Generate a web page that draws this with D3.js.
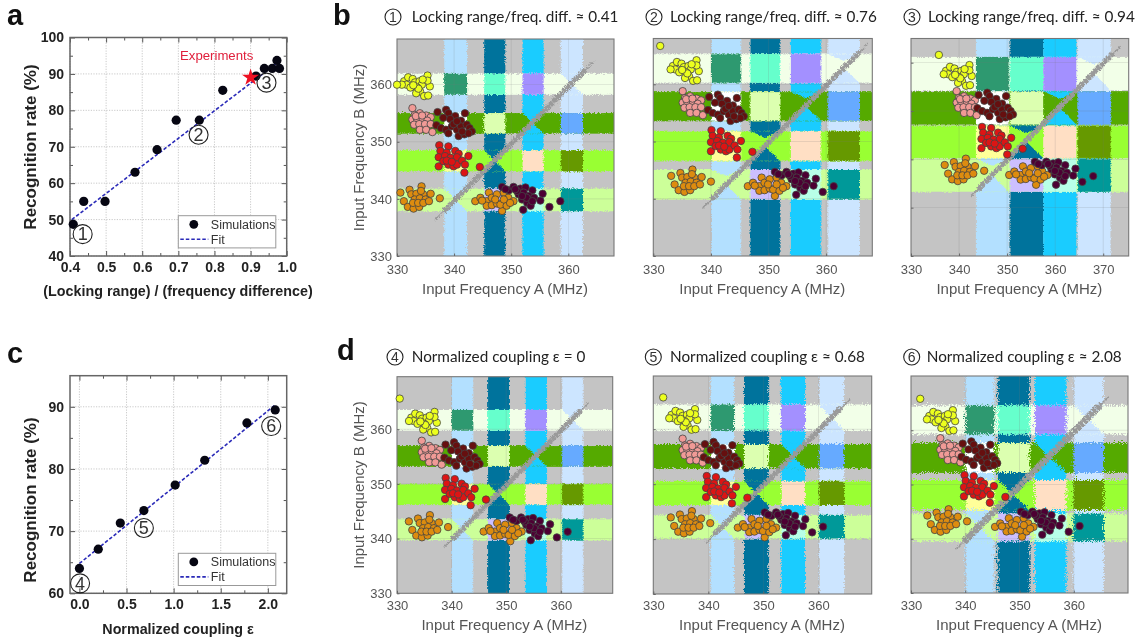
<!DOCTYPE html>
<html>
<head>
<meta charset="utf-8">
<script src="https://cdnjs.cloudflare.com/ajax/libs/d3/7.8.5/d3.min.js"></script>
<style>
  html,body{margin:0;padding:0;background:#fff;}
  svg{display:block;filter:blur(.45px);}
  text{font-family:"Liberation Sans",Arial,sans-serif;}
  .title{font-family:Lato,"Open Sans",sans-serif;font-size:15.3px;fill:#222;}
</style>
</head>
<body>
<div id="chart"></div>
<script>
// panel a
const lockRatio = [0.409,0.438,0.497,0.58,0.641,0.694,0.758,0.823,0.915,0.938,0.96,0.973,0.98]
const lockRate  = [48.7,55,55,63,69.2,77.3,77.3,85.5,89.4,91.5,91.5,93.7,91.5]
const lockFitX  = [0.405,0.98]
const lockFitY  = [50,93.5]
const expPoint  = [0.9,89]
const lockMarks = [["1",0.435,46],["2",0.756,73.3],["3",0.944,87.6]]
// panel c
const coupling     = [0,0.2,0.434,0.684,1.016,1.33,1.778,2.078]
const couplingRate = [64,67.1,71.3,73.3,77.4,81.4,87.4,89.5]
const couplingFitX = [0,2.07]
const couplingFitY = [64.8,90.2]
const couplingMarks = [["4",0.007,61.6],["5",0.684,70.5],["6",2.035,86.9]]

// decision maps, one entry per panel: b1 b2 b3 d1 d2 d3 (MHz)
const mapMarks  = ["1","2","3","4","5","6"]
const mapTitles = ["Locking range/freq. diff. ≈ 0.41","Locking range/freq. diff. ≈ 0.76","Locking range/freq. diff. ≈ 0.94",
                   "Normalized coupling ε = 0","Normalized coupling ε ≈ 0.68","Normalized coupling ε ≈ 2.08"]
const maxA = [368,368,375.3,369.5,369.7,370]
const maxB = [368,368,375,369.6,369.7,370]
const colBands = [
  [[338.1,342.1],[345.1,348.8],[351.8,355.5],[358.5,362.4]],
  [[340,345.1],[346.7,351.9],[353.7,359],[360.2,365.7]],
  [[343.5,350.3],[350.5,357.5],[357.5,364.4],[364.6,371.5]],
  [[339.9,343.8],[346.5,350.5],[353.4,357.3],[360.1,364]],
  [[340.2,344.5],[346.3,350.7],[353,357.4],[359.9,364.5]],
  [[339.7,345],[345.6,351.5],[352.5,358.3],[359.6,365.2]]]
const rowBands = [
  [[358.4,362.1],[351.6,355.2],[345,348.7],[338,342]],
  [[360.3,365.4],[353.7,358.8],[346.7,351.9],[340,345.2]],
  [[364.3,371.2],[357.2,364.1],[350.3,357],[343.3,350.2]],
  [[359.9,363.7],[353.3,357.1],[346.3,350.1],[339.8,343.7]],
  [[360,364.7],[353.1,357.5],[346.4,350.8],[340.3,344.6]],
  [[359.6,364.9],[352.5,358],[345.7,351.2],[339.9,345]]]
const diagonal = [[336.5,364.3],[338.5,367.2],[342.4,373.4],[338.5,365],[339.4,365.6],[338.1,366.4]]
const colColors = ["#b3e0ff","#00739c","#1accff","#cce5ff"]
const rowColors = ["#f2ffe8","#55aa00","#99ff33","#ccff99"]
const cellColors = [
  ["#2e9970","#66ffcc","#a390ff",null],
  ["#ffffff","#dcffb0",null,"#66aaff"],
  ["#ffff99",null,"#ffdfc4","#669900"],
  [null,"#ccbfff","#b8ffe8","#009999"]]

const clusterYellow = [[-2.2,.6],[-1.5,1.3],[-.7,1],[1.9,1.6],[-1.8,0],[-1.1,-.5],[-.3,.4],[.5,.6],[.9,0],[.1,-.5],[.6,-1.2],[-.1,-1.5],[1.3,-2],[2,-1.9],[2.3,-.3],[1.9,.7],[.3,-.7],[-.6,-.1],[-2.6,0],[1.05,.9]]
const clusterPink = [[-1.6,2.2],[-.3,1.3],[-1.2,1],[.8,.9],[1.6,.6],[-1.6,.2],[-.8,.3],[.2,.3],[1,0],[-1.3,-.7],[-.4,-.6],[.6,-.6],[1.6,-.6],[-.3,-1.6],[.8,-1.6],[1.9,-2],[-1,.8],[.1,.9]]
const clusterBrown = [[-2.8,2.2],[-1.3,2.6],[-.9,2],[.3,1.5],[2,2],[-.6,1],[1.3,.7],[-1.8,1.2],[-3,-.1],[-2.2,-.6],[-1.3,-.9],[-.3,-.3],[.6,-.9],[1.3,-.3],[2.3,0],[2.8,-.6],[3.2,-1.2],[.9,-2],[1.9,-1.7],[2.6,-1.5],[-.9,-1.5],[0,.1],[.6,.6],[1.5,-1.2]]
const clusterRed = [[-2.2,2.2],[-.6,2],[-2,1.2],[-.9,.9],[.6,1.2],[1.2,.7],[-2.3,.1],[-1.2,.3],[-.2,0],[.9,.1],[-2.3,-1.5],[-1.5,-.6],[-.6,-1.2],[.3,-1.5],[.9,-1.2],[1.8,-.5],[2.9,.3],[2.3,-1.2],[2.2,-2.6],[4.9,-1.6],[-.9,-.5],[0,-.7]]
const clusterOrangeL = [[-3.1,1.2],[-2.5,-.3],[-1.5,1.7],[.6,2.3],[-1.2,.9],[-.3,1],[.9,.9],[2.2,1],[-.6,0],[.3,.2],[1.3,0],[3.8,.2],[-1.8,-1.3],[-.8,-1.6],[.2,-1.3],[-.9,-.6],[0,-.6],[.9,-.6],[1.9,-.3],[.5,1.5]]
const clusterOrangeR = [[-3.5,-.2],[-2.6,.4],[-1.1,1.3],[-1.5,-.2],[-.6,.4],[.3,1],[1.5,1.3],[2.3,.4],[3.2,-.2],[-1.5,-1],[-.6,-.9],[.3,-.6],[1.2,-1.9],[.9,-.8],[2,-1],[2.6,-.5],[-2.3,-.1],[0,.1],[1.5,.1]]
const clusterMaroon = [[-3.8,1.6],[-2.6,1],[-1.8,1.6],[-.6,1.3],[.3,1.5],[1.5,1],[3.3,.4],[-.9,.3],[0,.6],[.9,0],[1.8,-.3],[2.9,-.8],[-.3,-.6],[.6,-1.2],[1.2,-1.7],[4.5,-1.9],[6.4,-.9],[-.1,-2.4],[-3.2,1.2],[-1.2,.9],[.5,-.3],[-.3,0],[1.5,-.9],[-1.5,1.2]]
const clusters = [clusterYellow,clusterPink,clusterOrangeL,clusterRed,clusterBrown,clusterOrangeR,clusterMaroon]
const clusterColors = ["#ecff1e","#f09a96","#dd8c0f","#dd1414","#660f0f","#dd8c0f","#4d0033"]
// centre [A,B] of every cluster in each panel, same order as clusters
const clusterCentres = [
  [[333.45,360],[334.3,353.7],[333.7,339.9],[339.6,347.2],[339.9,353],[347.2,339.8],[352.2,340.5]],
  [[335.6,362.6],[336.7,356.6],[336.2,342.8],[342.3,349.8],[342.5,355.6],[349.9,342.4],[354.9,343.1]],
  [[339.9,367.6],[341.4,361.5],[340.7,347.4],[347.4,354.1],[347.4,360.7],[354.6,347],[360.3,347.6]],
  [[334.9,361.5],[336.2,355.6],[335.4,341.9],[341.2,348.8],[341.8,354.9],[349.5,341.5],[354.6,342.2]],
  [[335.6,362],[337,356],[336.4,342.7],[342,349.2],[342.3,355],[349,342.3],[354.2,343.2]],
  [[335.7,362],[337.1,356.2],[336.3,343],[342.2,349.4],[342.5,355.2],[349.2,342.4],[354.3,343.3]]]
const clusterSpread = [1,1,1.19,1.04,1.04,1.06]
const yellowOutlier = [[330,360],[331.2,366.7],[335.8,371.6],[330.5,365.6],[331.8,365.8],[331.7,365.8]]

const svg = d3.select("#chart").append("svg").attr("width",1136).attr("height",641)
svg.append("rect").attr("width",1136).attr("height",641).attr("fill","#fff")
const defs = svg.append("defs")

function jagFilter(id,scale){
  const f = defs.append("filter").attr("id",id).attr("x","-5%").attr("y","-5%").attr("width","110%").attr("height","110%").attr("color-interpolation-filters","sRGB")
  f.append("feTurbulence").attr("type","turbulence").attr("baseFrequency",0.55).attr("numOctaves",2).attr("seed",4).attr("result","n")
  f.append("feDisplacementMap").attr("in","SourceGraphic").attr("in2","n").attr("scale",scale).attr("xChannelSelector","R").attr("yChannelSelector","G")
}
const jagScale = [4,2,1.5,2.5,5,8]
jagScale.forEach((s,i)=>jagFilter("jag"+i,s))

// circled number
function mark(g,cx,cy,r,t,size){
  g.append("circle").attr("cx",cx).attr("cy",cy).attr("r",r).attr("fill","none").attr("stroke","#222").attr("stroke-width",1.1)
  g.append("text").attr("x",cx).attr("y",cy+size*0.35).attr("text-anchor","middle").attr("font-size",size).attr("fill","#333").text(t)
}

function lettering(t,x,y){
  svg.append("text").attr("x",x).attr("y",y).attr("font-size",29).attr("font-weight","bold").attr("fill","#111").text(t)
}
lettering("a",7,25); lettering("b",333,25); lettering("c",7,363); lettering("d",337,360)

// scatter panels a and c
function fitPanel(o){
  const left=70, right=286.7
  const x=d3.scaleLinear().domain(o.xDomain).range([left,right])
  const y=d3.scaleLinear().domain(o.yDomain).range([o.bottom,o.top])
  const g=svg.append("g")
  // dotted grid
  g.selectAll(null).data(o.xTicks).join("line")
    .attr("x1",d=>x(d)).attr("x2",d=>x(d)).attr("y1",o.top).attr("y2",o.bottom)
    .attr("stroke","#bbb").attr("stroke-width",.8).attr("stroke-dasharray","1.2 1.4")
  g.selectAll(null).data(o.yTicks).join("line")
    .attr("y1",d=>y(d)).attr("y2",d=>y(d)).attr("x1",left).attr("x2",right)
    .attr("stroke","#bbb").attr("stroke-width",.8).attr("stroke-dasharray","1.2 1.4")
  // major + minor ticks on all sides
  const ax=(gen,t,vals,size,lab)=>{
    const a=g.append("g").attr("transform",t).call(gen.tickValues(vals).tickSize(size).tickPadding(lab?6:0).tickFormat(lab||""))
    a.select(".domain").remove()
    a.selectAll("line").attr("stroke","#555").attr("stroke-width",1)
    a.selectAll("text").attr("font-size",14).attr("font-weight","bold").attr("fill","#222")
  }
  ax(d3.axisBottom(x),`translate(0,${o.bottom})`,o.xMinor,-3)
  ax(d3.axisTop(x),`translate(0,${o.top})`,o.xMinor,-3)
  ax(d3.axisLeft(y),`translate(${left},0)`,o.yMinor,-3)
  ax(d3.axisRight(y),`translate(${right},0)`,o.yMinor,-3)
  ax(d3.axisBottom(x),`translate(0,${o.bottom})`,o.xTicks,-5,d3.format(".1f"))
  ax(d3.axisTop(x),`translate(0,${o.top})`,o.xTicks,-5)
  ax(d3.axisLeft(y),`translate(${left},0)`,o.yTicks,-5,d3.format("d"))
  ax(d3.axisRight(y),`translate(${right},0)`,o.yTicks,-5)
  g.append("rect").attr("x",left).attr("y",o.top).attr("width",right-left).attr("height",o.bottom-o.top)
    .attr("fill","none").attr("stroke","#666").attr("stroke-width",1.5)
  // fit
  g.append("path").attr("d",d3.line().x(d=>x(d[0])).y(d=>y(d[1]))(d3.zip(o.fitX,o.fitY)))
    .attr("fill","none").attr("stroke","#2a2ab8").attr("stroke-width",1.6).attr("stroke-dasharray","3.5 2")
  // simulations
  g.selectAll(null).data(d3.zip(o.xs,o.ys)).join("circle")
    .attr("cx",d=>x(d[0])).attr("cy",d=>y(d[1])).attr("r",4.6).attr("fill","#060612")
  o.marks.forEach(m=>mark(g,x(m[1]),y(m[2]),9.5,m[0],18))
  // legend
  const lx=178.3, ly=o.legendTop
  g.append("rect").attr("x",lx).attr("y",ly).attr("width",97.5).attr("height",32.2).attr("fill","#fff").attr("stroke","#999").attr("stroke-width",1)
  g.append("circle").attr("cx",lx+15.5).attr("cy",ly+8.6).attr("r",4.4).attr("fill","#060612")
  g.append("text").attr("x",lx+32.5).attr("y",ly+13).attr("font-size",12.5).attr("fill","#333").text("Simulations")
  g.append("line").attr("x1",lx+2).attr("x2",lx+30).attr("y1",ly+23.6).attr("y2",ly+23.6)
    .attr("stroke","#2a2ab8").attr("stroke-width",1.6).attr("stroke-dasharray","3.5 2")
  g.append("text").attr("x",lx+32.5).attr("y",ly+28).attr("font-size",12.5).attr("fill","#333").text("Fit")
  // titles
  g.append("text").attr("x",178).attr("y",o.xTitleY).attr("text-anchor","middle").attr("font-size",14.3).attr("font-weight","bold").attr("fill","#222").text(o.xTitle)
  g.append("text").attr("transform",`translate(36,${o.yTitleY}) rotate(-90)`).attr("text-anchor","middle").attr("font-size",17).attr("font-weight","bold").attr("fill","#222").text("Recognition rate (%)")
  return {g,x,y}
}

const panelA=fitPanel({xDomain:[.4,1],yDomain:[40,100],top:37.5,bottom:256,
  xTicks:d3.range(4,11).map(d=>d/10),yTicks:d3.range(40,101,10),
  xMinor:d3.range(9,20,2).map(d=>d/20),yMinor:d3.range(45,100,10),
  fitX:lockFitX,fitY:lockFitY,xs:lockRatio,ys:lockRate,marks:lockMarks,legendTop:215.7,
  xTitle:"(Locking range) / (frequency difference)",xTitleY:296,yTitleY:147})
panelA.g.append("path").attr("transform",`translate(${panelA.x(expPoint[0])},${panelA.y(expPoint[1])})`)
  .attr("d",d3.symbol().type(d3.symbolStar).size(90)()).attr("fill","#ee1022")
panelA.g.append("text").attr("x",180).attr("y",60).attr("font-size",13.2).attr("fill","#e0203c").text("Experiments")

fitPanel({xDomain:[-.1,2.2],yDomain:[60,95],top:375.7,bottom:593.3,
  xTicks:[0,.5,1,1.5,2],yTicks:[60,70,80,90],
  xMinor:[.25,.75,1.25,1.75],yMinor:[65,75,85],
  fitX:couplingFitX,fitY:couplingFitY,xs:coupling,ys:couplingRate,marks:couplingMarks,legendTop:553.3,
  xTitle:"Normalized coupling ε",xTitleY:634,yTitleY:500})

// decision map panels
const mapBoxes=[
  {x0:397,x1:614,y0:39,y1:256,lab:275,title:294,head:22,cx:393,tx:411.7,cut:0},
  {x0:653.3,x1:872.3,y0:38.5,y1:256,lab:275,title:294,head:22,cx:654,tx:670,cut:.55},
  {x0:911,x1:1128.7,y0:38.5,y1:256,lab:275,title:294,head:22,cx:912,tx:928,cut:.55},
  {x0:397,x1:612.7,y0:376.7,y1:593.3,lab:611,title:630,head:362,cx:395,tx:411.7,cut:0},
  {x0:653.3,x1:871.7,y0:376,y1:594,lab:611,title:630,head:362,cx:653.3,tx:670,cut:0},
  {x0:911,x1:1128,y0:376,y1:593,lab:611,title:630,head:362,cx:911.7,tx:926.7,cut:0}]

mapBoxes.forEach((b,p)=>{
  const x=d3.scaleLinear().domain([330,maxA[p]]).range([b.x0,b.x1])
  const y=d3.scaleLinear().domain([330,maxB[p]]).range([b.y1,b.y0])
  const g=svg.append("g")
  defs.append("clipPath").attr("id","box"+p).append("rect")
    .attr("x",b.x0).attr("y",b.y0).attr("width",b.x1-b.x0).attr("height",b.y1-b.y0)
  const clip=g.append("g").attr("clip-path",`url(#box${p})`)
  const m=clip.append("g").attr("filter",`url(#jag${p})`)
  m.append("rect").attr("x",b.x0-10).attr("y",b.y0-10).attr("width",b.x1-b.x0+20).attr("height",b.y1-b.y0+20).attr("fill","#c4c4c4")
  m.selectAll(null).data(colBands[p]).join("rect")
    .attr("x",d=>x(d[0])).attr("width",d=>x(d[1])-x(d[0])).attr("y",b.y0-10).attr("height",b.y1-b.y0+20)
    .attr("fill",(d,i)=>colColors[i])
  m.selectAll(null).data(rowBands[p]).join("rect")
    .attr("x",b.x0-10).attr("width",b.x1-b.x0+20).attr("y",d=>y(d[1])).attr("height",d=>y(d[0])-y(d[1]))
    .attr("fill",(d,i)=>rowColors[i])
  rowBands[p].forEach((r,ri)=>colBands[p].forEach((c,ci)=>{
    const col=cellColors[ri][ci]
    if(col){
      m.append("rect").attr("x",x(c[0])).attr("width",x(c[1])-x(c[0])).attr("y",y(r[1])).attr("height",y(r[0])-y(r[1])).attr("fill",col)
    }else{
      // the cell on the diagonal splits into a bowtie, upper wedge cut short in some panels
      const mx=(c[0]+c[1])/2, my=(r[0]+r[1])/2
      const tip=my+(r[1]-my)*b.cut
      const tri=[[[c[0],r[1]],[c[1],r[1]],[mx,tip]],[[c[0],r[0]],[c[1],r[0]],[mx,my]]]
      m.selectAll(null).data(tri).join("path")
        .attr("d",d3.line().x(d=>x(d[0])).y(d=>y(d[1])))
        .attr("fill",colColors[ci])
    }
  }))
  // diagonal
  const dg=clip.append("g").attr("filter",`url(#jag${Math.min(p,3)})`)
  const dl=diagonal[p]
  dg.append("line").attr("x1",x(dl[0])).attr("y1",y(dl[0])).attr("x2",x(dl[1])).attr("y2",y(dl[1]))
    .attr("stroke","#9a9a9a").attr("stroke-width",1.5)
  dg.append("line").attr("x1",x(dl[0]+1.5)).attr("y1",y(dl[0]+1.5)).attr("x2",x(dl[1]-1.5)).attr("y2",y(dl[1]-1.5))
    .attr("stroke","#9a9a9a").attr("stroke-width",p==5?7:5.5).attr("stroke-dasharray","4 .7")
  // faint grid
  const xt=d3.range(340,maxA[p],10), yt=d3.range(340,maxB[p],10)
  clip.selectAll(null).data(xt).join("line").attr("x1",d=>x(d)).attr("x2",d=>x(d)).attr("y1",b.y0).attr("y2",b.y1).attr("stroke","#777").attr("stroke-width",.6).attr("opacity",.3)
  clip.selectAll(null).data(yt).join("line").attr("y1",d=>y(d)).attr("y2",d=>y(d)).attr("x1",b.x0).attr("x2",b.x1).attr("stroke","#777").attr("stroke-width",.6).attr("opacity",.3)
  g.append("rect").attr("x",b.x0).attr("y",b.y0).attr("width",b.x1-b.x0).attr("height",b.y1-b.y0).attr("fill","none").attr("stroke","#777").attr("stroke-width",1.1)
  // axes
  const axX=g.append("g").attr("transform",`translate(0,${b.y1})`).call(d3.axisBottom(x).tickValues(d3.range(330,maxA[p],10)).tickSize(-2.5).tickPadding(b.lab-b.y1-10))
  const axY=g.append("g").attr("transform",`translate(${b.x0},0)`).call(d3.axisLeft(y).tickValues(d3.range(330,maxB[p],10)).tickSize(-2.5).tickPadding(5).tickFormat(p%3==0?d3.format("d"):""))
  ;[axX,axY].forEach(a=>{
    a.select(".domain").remove()
    a.selectAll("line").attr("stroke","#666")
    a.selectAll("text").attr("font-size",13).attr("fill","#555")
  })
  g.append("text").attr("x",(b.x0+b.x1)/2-.5).attr("y",b.title).attr("text-anchor","middle").attr("font-size",15).attr("fill","#555").text("Input Frequency A (MHz)")
  if(p%3==0) g.append("text").attr("transform",`translate(364,${(b.y0+b.y1)/2}) rotate(-90)`).attr("text-anchor","middle").attr("font-size",15).attr("fill","#555").text("Input Frequency B (MHz)")
  // title
  mark(g,b.cx,b.head-5,8,mapMarks[p],14)
  g.append("text").attr("class","title").attr("x",b.tx).attr("y",b.head).text(mapTitles[p])
  // points
  clusters.forEach((pts,ci)=>{
    const c=clusterCentres[p][ci], s=clusterSpread[p]
    g.selectAll(null).data(pts).join("circle")
      .attr("cx",d=>x(c[0]+d[0]*s)).attr("cy",d=>y(c[1]+d[1]*s)).attr("r",3.7)
      .attr("fill",clusterColors[ci]).attr("stroke","#444").attr("stroke-width",.8)
  })
  g.append("circle").attr("cx",x(yellowOutlier[p][0])).attr("cy",y(yellowOutlier[p][1])).attr("r",3.7)
    .attr("fill",clusterColors[0]).attr("stroke","#444").attr("stroke-width",.8)
})
</script>
</body>
</html>
